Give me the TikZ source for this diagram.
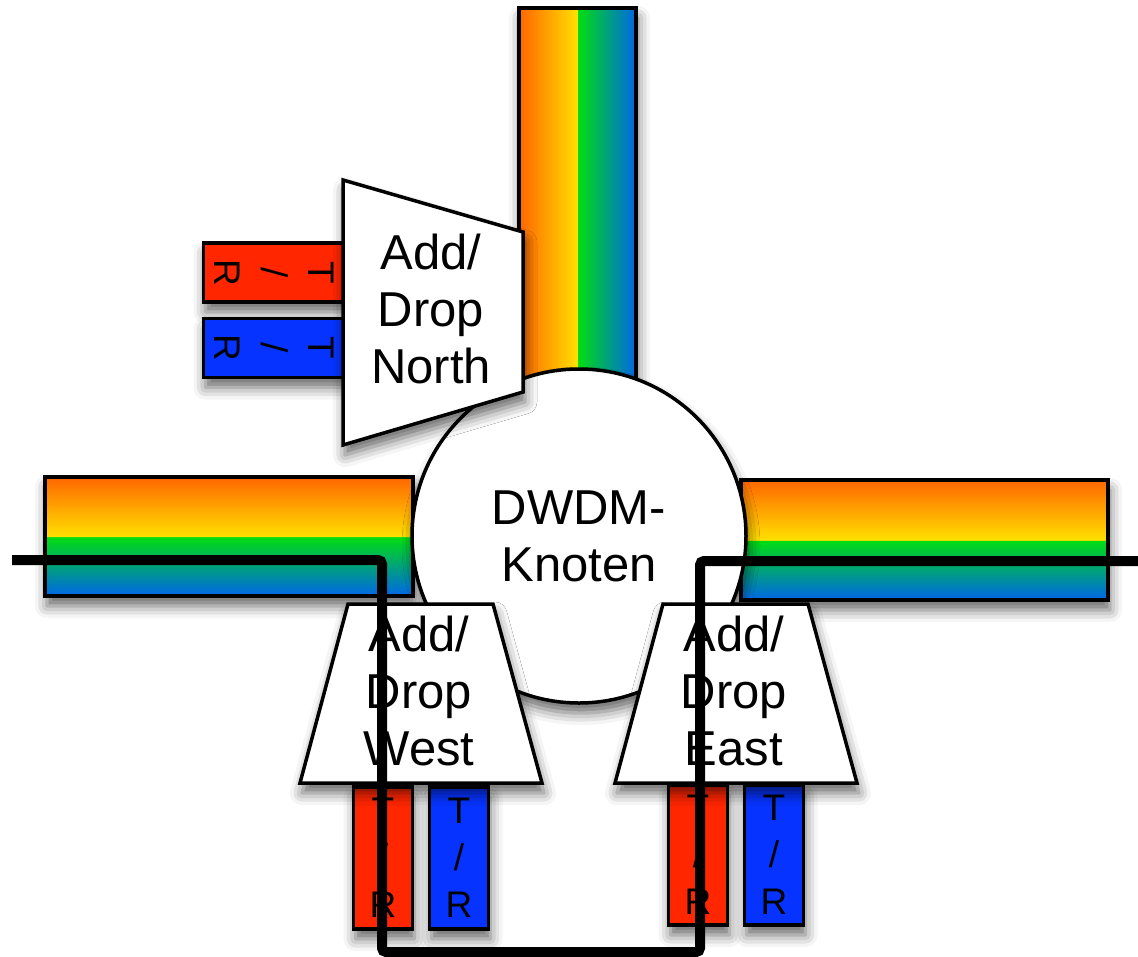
\documentclass[tikz,border=0pt]{standalone}
\usepackage{fontspec}
\setmainfont{Liberation Sans}
\usetikzlibrary{shadows.blur}
\definecolor{rbOrange}{HTML}{FF6600}
\definecolor{rbYellow}{HTML}{FFE000}
\definecolor{rbGreen}{HTML}{00DD10}
\definecolor{rbBlue}{HTML}{0066E8}
\definecolor{trRed}{HTML}{FF2600}
\definecolor{trBlue}{HTML}{0633FF}
\pgfdeclarehorizontalshading{rainbowH}{100bp}{color(0bp)=(rbOrange); color(25bp)=(rbOrange); color(50bp)=(rbYellow); color(50.2bp)=(rbGreen); color(75bp)=(rbBlue); color(100bp)=(rbBlue)}
\pgfdeclareverticalshading{rainbowV}{100bp}{color(0bp)=(rbBlue); color(25bp)=(rbBlue); color(49.8bp)=(rbGreen); color(50bp)=(rbYellow); color(75bp)=(rbOrange); color(100bp)=(rbOrange)}
\begin{document}
\begin{tikzpicture}[x=1pt,y=-1pt,
  shad/.style={blur shadow={shadow xshift=2pt, shadow yshift=-10pt, shadow blur radius=12pt, shadow opacity=60}},
  rainbowbar/.style={shad, draw=black, line width=3.5, inner sep=0pt, rectangle},
  unit/.style={shad, draw=black, line width=3.5, fill=white},
  bigtext/.style={align=center, font=\fontsize{49}{57}\selectfont, inner sep=0pt},
  trbox/.style={shad, draw=black, line width=3.5, rectangle, inner sep=0pt, align=center,
    font=\fontsize{37}{47}\selectfont, minimum width=59, minimum height=142},
  fibre/.style={line width=10, draw=black, rounded corners=4}
]
\useasboundingbox (0,0) rectangle (1138,956);

% rainbow fibre bundles
\node[rainbowbar, shading=rainbowH, minimum width=117, minimum height=442] (topbar) at (577.5,229) {};
\node[rainbowbar, shading=rainbowV, minimum width=368, minimum height=119] (leftbar) at (229,536.5) {};
\node[rainbowbar, shading=rainbowV, minimum width=367, minimum height=120] (rightbar) at (924.5,540) {};

% north transceivers
\node[trbox, fill=trRed, rotate=-90] (nred) at (274.5,272.5) {T\\/\\R};
\node[trbox, fill=trBlue, rotate=-90] (nblue) at (274.5,348) {T\\/\\R};

% node circle
\node[circle, shad, draw=black, line width=3.5, fill=white, minimum size=334, inner sep=0pt,
  align=center, font=\fontsize{49}{57}\selectfont] (knot) at (579,536) {DWDM-\\Knoten};

% north add/drop
\draw[unit] (343,180) -- (523,232) -- (523,392) -- (343,445) -- cycle;
\node[bigtext] (north) at (431,309) {Add/\\Drop\\North};

% west / east transceivers
\node[trbox, fill=trRed] (wred) at (383,858) {T\\/\\R};
\node[trbox, fill=trBlue] (wblue) at (459,858) {T\\/\\R};
\node[trbox, fill=trRed, minimum height=140] (ered) at (698,855) {T\\/\\R};
\node[trbox, fill=trBlue, minimum height=140] (eblue) at (774,855) {T\\/\\R};

% west / east add/drop
\draw[unit] (348,604) -- (493,604) -- (542,783) -- (300,783) -- cycle;
\node[bigtext] (west) at (419,691) {Add/\\Drop\\West};
\draw[unit] (663,604) -- (808,604) -- (857,783) -- (615,783) -- cycle;
\node[bigtext] (east) at (734,691) {Add/\\Drop\\East};

% light path
\coordinate (pin) at (12,560);
\coordinate (pout) at (1138,561);
\draw[fibre] (pin) -- (382,560) -- (382,952) -- (700,952) -- (700,561) -- (pout);
\end{tikzpicture}
\end{document}
